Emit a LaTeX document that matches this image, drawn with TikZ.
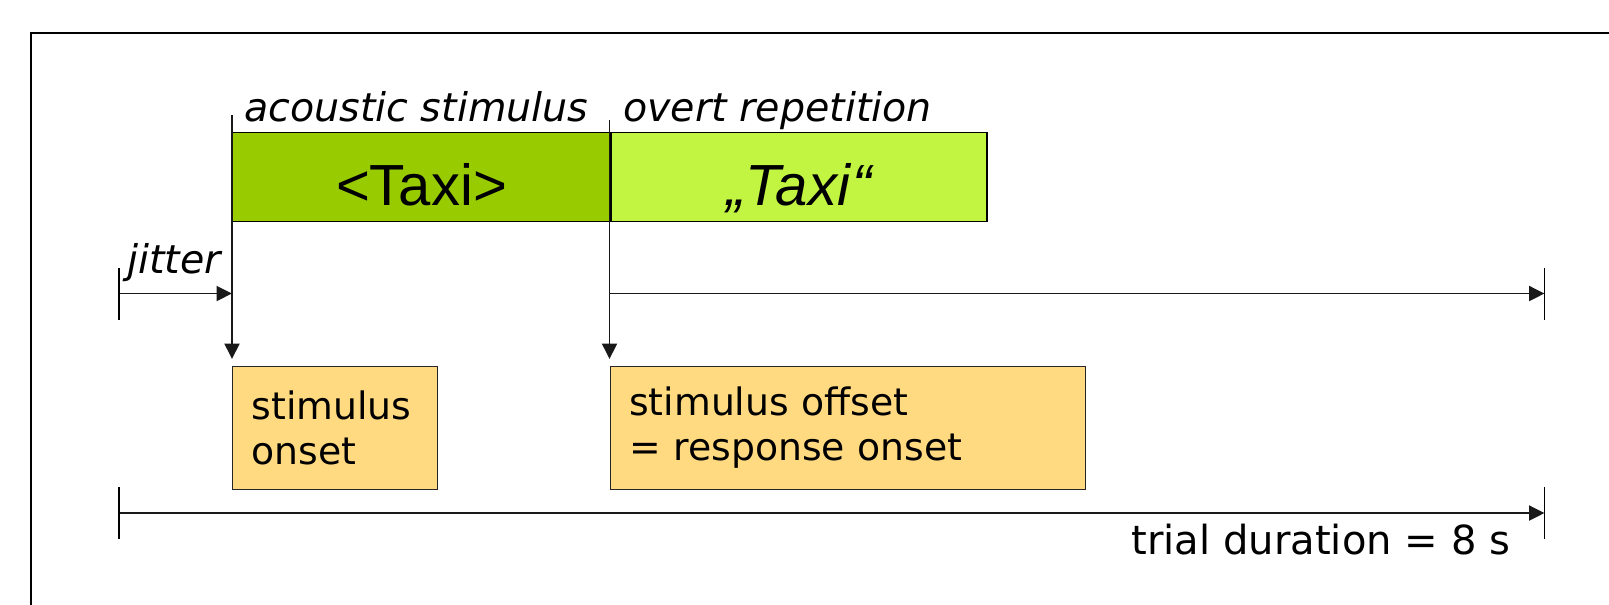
\documentclass[tikz,border=0pt]{standalone}
\usepackage{fontspec}
\setmainfont{DejaVu Sans}
\newfontfamily\taxifont{Liberation Sans}
\usetikzlibrary{arrows.meta,positioning}
\definecolor{trialGreen}{HTML}{99CC00}
\definecolor{trialLime}{HTML}{C2F542}
\definecolor{trialSand}{HTML}{FFDA80}

\begin{document}
\begin{tikzpicture}[font=\fontsize{21.5}{25.5}\selectfont,
    wordbox/.style={draw=black,line width=0.8pt,minimum width=7.55cm,minimum height=1.78cm,
                    inner sep=0pt,text height=1.12cm,text depth=0cm,
                    font=\taxifont\fontsize{33}{36}\selectfont},
    event/.style={draw=black!85,fill=trialSand,line width=0.8pt,minimum height=2.45cm,
                  inner xsep=0.38cm,align=left},
    lab/.style={font=\itshape\fontsize{22.5}{26}\selectfont,inner sep=0pt},
    arr/.style={-{Triangle[length=0.31cm,width=0.3cm]},black!90,line width=1.1pt},
    tick/.style={black,line width=0.9pt}]

  \clip (0,0) rectangle (32.18,-12.08);
  % frame, cut off at the right and the bottom
  \draw[line width=1pt] (0.616,-0.656) rectangle (40,-20);

  \node[wordbox,fill=trialGreen,anchor=north west] (stim) at (4.64,-2.64) {<Taxi>};
  \node[wordbox,fill=trialLime,anchor=north west,minimum width=7.51cm] (resp) at (stim.north east) {\itshape „Taxi\kern0.05em“};

  \node[lab,anchor=base west] (stimlab) at (4.88,-2.42) {acoustic stimulus};
  \node[lab,anchor=base west] (resplab) at (12.46,-2.42) {overt repetition};
  \node[lab,anchor=base west] (jitlab) at (2.54,-5.46) {jitter};

  \node[event,minimum width=4.1cm,text width=3.34cm,anchor=north west] (onset) at (4.64,-7.32) {stimulus\\onset};
  \node[event,minimum width=9.5cm,text width=8.74cm,anchor=north west] (offset) at (12.19,-7.32) {stimulus offset\\= response onset};

  \coordinate (ontop) at (4.64,-2.30);
  \coordinate (offtop) at (12.19,-2.40);
  \coordinate (jit) at (2.38,-5.87);
  \coordinate (trialend) at (30.89,-5.87);
  \coordinate (tstart) at (2.38,-10.26);
  \coordinate (tstop) at (30.89,-10.26);

  \draw[arr,shorten >=0.14cm] (ontop) -- (onset.north west);
  \draw[arr,shorten >=0.14cm] (offtop) -- (offset.north west);
  \draw[arr] (jit) -- (jit -| onset.west);
  \draw[arr] (jit -| offset.west) -- (trialend);
  \draw[arr] (tstart) -- (tstop);

  \draw[tick] ([yshift=0.52cm]jit) -- ([yshift=-0.52cm]jit);
  \draw[tick] ([yshift=0.52cm]trialend) -- ([yshift=-0.52cm]trialend);
  \draw[tick] ([yshift=0.52cm]tstart) -- ([yshift=-0.52cm]tstart);
  \draw[tick] ([yshift=0.52cm]tstop) -- ([yshift=-0.52cm]tstop);

  \node[anchor=base east,inner sep=0pt,font=\fontsize{22.8}{26}\selectfont] (durlab) at (30.21,-11.08) {trial duration = 8 s};
\end{tikzpicture}
\end{document}
